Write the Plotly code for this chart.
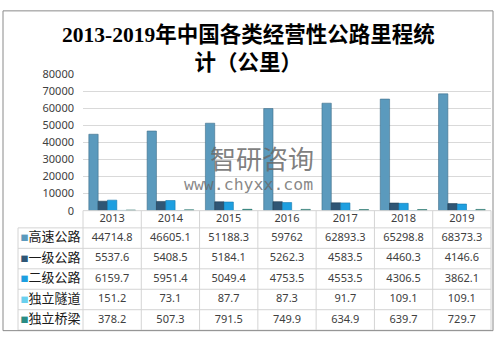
import plotly.graph_objects as go

# ---------------- data ----------------
years = ["2013", "2014", "2015", "2016", "2017", "2018", "2019"]
series_names = ["高速公路", "一级公路", "二级公路", "独立隧道", "独立桥梁"]
highway = [44714.8, 46605.1, 51188.3, 59762, 62893.3, 65298.8, 68373.3]
class1 = [5537.6, 5408.5, 5184.1, 5262.3, 4583.5, 4460.3, 4146.6]
class2 = [6159.7, 5951.4, 5049.4, 4753.5, 4553.5, 4306.5, 3862.1]
tunnel = [151.2, 73.1, 87.7, 87.3, 91.7, 109.1, 109.1]
bridge = [378.2, 507.3, 791.5, 749.9, 634.9, 639.7, 729.7]
y_ticks = [0, 10000, 20000, 30000, 40000, 50000, 60000, 70000, 80000]
y_tick_labels = [str(v) for v in y_ticks]
title_text = "2013-2019年中国各类经营性公路里程统<br>计（公里）"

series_values = [highway, class1, class2, tunnel, bridge]
colors = ["#5b9abd", "#2f5675", "#1e9fe0", "#6ad0ee", "#2a8c84"]
edge_colors = ["#3f6f8a", "#1f3c52", "#1479ad", "#45a9c6", "#1d6862"]

W, H = 497, 341


def px(x):
    return x / W


def py(y):
    return 1 - y / H


fig = go.Figure()

# ---------------- bars ----------------
for name, vals, c, ec in zip(series_names, series_values, colors, edge_colors):
    fig.add_trace(go.Bar(
        x=years, y=vals, name=name,
        marker=dict(color=c, line=dict(color=ec, width=0.6)),
        xaxis="x", yaxis="y", hoverinfo="skip",
    ))

# ---------------- data table ----------------
n_cols = len(years)
n_rows = len(series_names)
col_px = (491 - 83) / n_cols
label_w = (83 - 18) / col_px          # label column width in column units
row_px = (337 - 230) / n_rows
hdr = (230 - 212) / row_px            # header row height in row units
line_col = "#d4d4d4"

hx, hy = [], []
for k in range(n_rows + 1):
    hx += [-label_w, n_cols, None]
    hy += [k, k, None]
hx += [0, n_cols, None]
hy += [-hdr, -hdr, None]
for k in range(n_cols + 1):
    hx += [k, k, None]
    hy += [-hdr, n_rows, None]
hx += [-label_w, -label_w, None]
hy += [0, n_rows, None]

fig.add_trace(go.Scatter(
    x=hx, y=hy, mode="lines", line=dict(color=line_col, width=1),
    xaxis="x2", yaxis="y2", hoverinfo="skip", showlegend=False,
))

# header (years)
fig.add_trace(go.Scatter(
    x=[i + 0.5 for i in range(n_cols)], y=[-hdr / 2] * n_cols,
    text=years, mode="text",
    textfont=dict(family="Noto Sans", size=11, color="#404040"),
    xaxis="x2", yaxis="y2", hoverinfo="skip", showlegend=False,
))

# values
for r, vals in enumerate(series_values):
    fig.add_trace(go.Scatter(
        x=[i + 0.5 for i in range(n_cols)], y=[r + 0.5] * n_cols,
        text=[f"{v:g}" for v in vals], mode="text",
        textfont=dict(family="Noto Sans", size=11, color="#404040"),
        xaxis="x2", yaxis="y2", hoverinfo="skip", showlegend=False,
    ))

# row labels with legend keys
labels = [f'<span style="color:{c};font-size:8px">■</span>{n}'
          for n, c in zip(series_names, colors)]
fig.add_trace(go.Scatter(
    x=[-label_w / 2] * n_rows, y=[r + 0.5 for r in range(n_rows)],
    text=labels, mode="text",
    textfont=dict(family="Noto Sans CJK SC", size=13, color="#1a1a1a"),
    xaxis="x2", yaxis="y2", hoverinfo="skip", showlegend=False,
))

# ---------------- layout ----------------
ex_x = 1 / col_px
ex_y = 1 / row_px
fig.update_layout(
    width=W, height=H,
    margin=dict(l=0, r=0, t=0, b=0),
    paper_bgcolor="white", plot_bgcolor="rgba(0,0,0,0)",
    showlegend=False,
    barmode="group", bargap=0.2, bargroupgap=0,
    xaxis=dict(domain=[px(83), px(491)], showticklabels=False, showgrid=False,
               zeroline=False, showline=False, ticks=""),
    yaxis=dict(domain=[py(212), py(69)], range=[0, 80000], tickvals=y_ticks,
               ticktext=y_tick_labels,
               showgrid=True, gridcolor="#d9d9d9", gridwidth=1, zeroline=False,
               showline=False, ticks="", ticklabelstandoff=8,
               tickfont=dict(family="Noto Sans", size=11, color="#404040")),
    xaxis2=dict(domain=[px(17), px(492)], range=[-label_w - ex_x, n_cols + ex_x],
                visible=False, anchor="y2"),
    yaxis2=dict(domain=[py(338), py(211)], range=[n_rows + ex_y, -hdr - ex_y],
                visible=False, anchor="x2"),
    font=dict(family="Noto Sans CJK SC"),
)

# title
fig.add_annotation(
    text="<b>" + title_text + "</b>", xref="paper", yref="paper",
    x=0.5, y=py(42.5), xanchor="center", yanchor="middle", showarrow=False,
    font=dict(family="Liberation Serif, Noto Sans CJK SC", size=21.5, color="#000000"),
)

# watermark
fig.add_annotation(
    text="智研咨询", xref="paper", yref="paper", x=px(262), y=py(156),
    xanchor="center", yanchor="middle", showarrow=False,
    font=dict(family="Noto Sans CJK SC", size=26, color="rgba(105,105,105,0.85)"),
)
fig.add_annotation(
    text="www.chyxx.com", xref="paper", yref="paper", x=px(248.5), y=py(184.5),
    xanchor="center", yanchor="middle", showarrow=False,
    font=dict(family="DejaVu Sans Mono", size=16.5, color="rgba(105,105,105,0.8)"),
)

# outer frame
fig.add_shape(type="rect", xref="paper", yref="paper",
              x0=px(3), x1=px(493), y0=py(337.5), y1=py(3),
              line=dict(color="#8a8a8a", width=1), fillcolor="rgba(0,0,0,0)")

fig.write_html("out.html")
